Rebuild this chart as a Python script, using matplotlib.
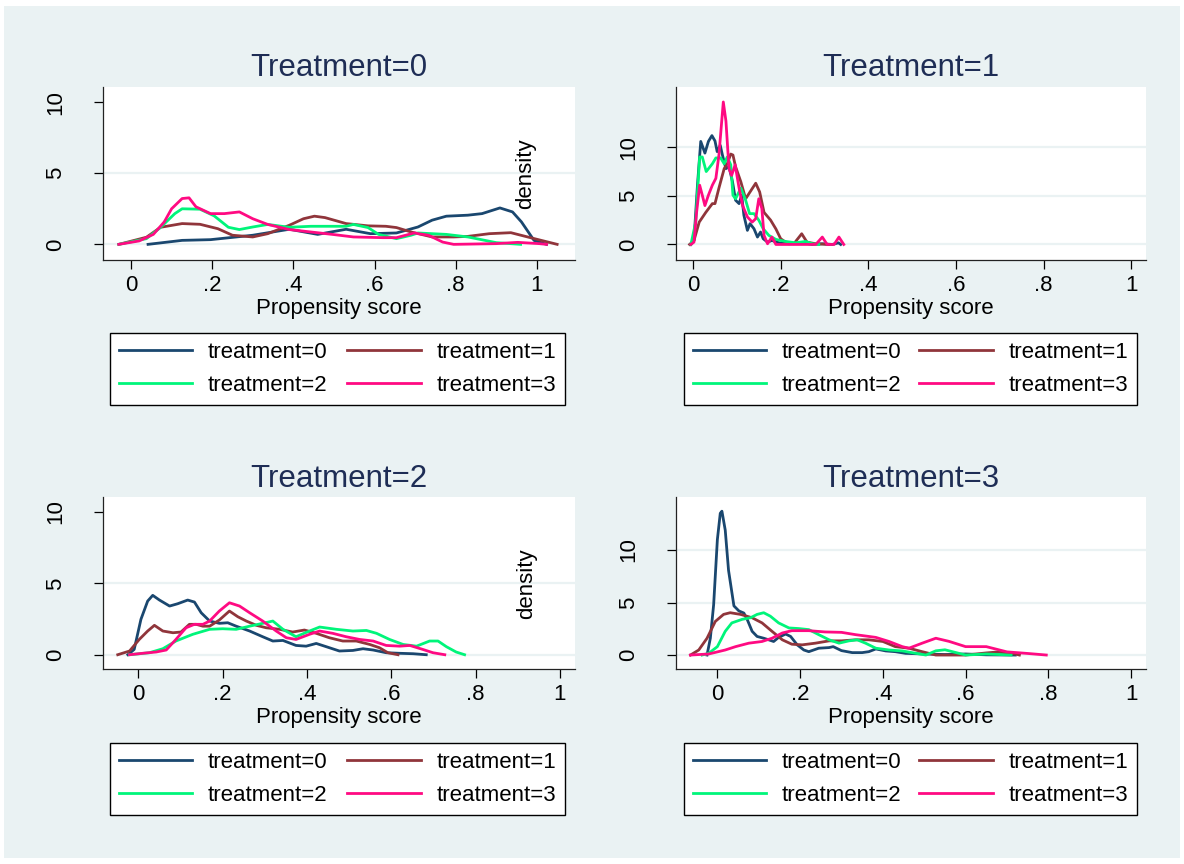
import matplotlib
matplotlib.use('Agg')
import matplotlib.pyplot as plt
from matplotlib.patches import Rectangle

plt.rcParams['font.family'] = ['Liberation Sans', 'DejaVu Sans']

W, H = 1184, 864

# ---- data (density curves) ----
# Treatment=0 panel
p0_t0_x = [0.042, 0.126, 0.196, 0.30, 0.39, 0.46, 0.53, 0.59, 0.654, 0.707, 0.742, 0.777, 0.83, 0.865, 0.909, 0.94, 0.962, 0.993, 1.024]
p0_t0_y = [0, 0.28, 0.33, 0.64, 1.06, 0.7, 1.06, 0.75, 0.8, 1.22, 1.7, 1.98, 2.05, 2.16, 2.56, 2.28, 1.58, 0.28, 0]
p0_t1_x = [-0.03, 0.038, 0.073, 0.126, 0.17, 0.214, 0.25, 0.30, 0.337, 0.39, 0.425, 0.452, 0.478, 0.53, 0.584, 0.628, 0.654, 0.69, 0.742, 0.795, 0.83, 0.883, 0.936, 0.98, 1.05]
p0_t1_y = [0, 0.5, 1.2, 1.46, 1.41, 1.1, 0.64, 0.52, 0.75, 1.34, 1.8, 1.98, 1.88, 1.46, 1.3, 1.27, 1.18, 0.87, 0.52, 0.52, 0.56, 0.75, 0.82, 0.5, 0]
p0_t2_x = [-0.03, 0.038, 0.073, 0.108, 0.126, 0.17, 0.205, 0.24, 0.267, 0.30, 0.337, 0.39, 0.443, 0.53, 0.548, 0.584, 0.61, 0.654, 0.69, 0.707, 0.777, 0.83, 0.90, 0.96]
p0_t2_y = [0, 0.4, 1.2, 2.16, 2.5, 2.47, 2.0, 1.2, 1.04, 1.22, 1.4, 1.2, 1.27, 1.27, 1.4, 1.18, 0.7, 0.4, 0.64, 0.8, 0.7, 0.52, 0.12, 0]
p0_t3_x = [-0.03, 0.02, 0.055, 0.082, 0.10, 0.126, 0.143, 0.16, 0.196, 0.23, 0.267, 0.30, 0.337, 0.39, 0.443, 0.496, 0.548, 0.62, 0.654, 0.698, 0.733, 0.768, 0.795, 0.90, 0.953, 1.006, 1.024]
p0_t3_y = [0, 0.24, 0.7, 1.58, 2.5, 3.22, 3.27, 2.64, 2.16, 2.16, 2.28, 1.8, 1.4, 1.04, 0.87, 0.7, 0.52, 0.47, 0.47, 0.8, 0.64, 0.16, 0, 0.05, 0.14, 0.05, 0]

# Treatment=1 panel
p1_t0_x = [-0.005, 0.002, 0.01, 0.0175, 0.027, 0.035, 0.043, 0.05, 0.055, 0.062, 0.067, 0.075, 0.082, 0.09, 0.097, 0.105, 0.111, 0.116, 0.124, 0.13, 0.139, 0.147, 0.154, 0.16, 0.17, 0.18, 0.196, 0.219, 0.25, 0.272, 0.295, 0.318, 0.332, 0.337]
p1_t0_y = [0, 0.41, 6.1, 10.6, 9.4, 10.6, 11.2, 10.65, 9.55, 10.2, 9.2, 7.8, 8.0, 6.45, 4.55, 4.2, 5.07, 3.0, 1.45, 2.14, 1.62, 0.76, 1.28, 0.59, 0.24, 0.41, 0.17, 0.07, 0.17, 0, 0.07, 0, 0.17, 0]
p1_t1_x = [-0.008, 0.002, 0.014, 0.029, 0.044, 0.05, 0.059, 0.071, 0.078, 0.086, 0.091, 0.097, 0.109, 0.12, 0.13, 0.143, 0.152, 0.162, 0.177, 0.189, 0.2, 0.211, 0.23, 0.248, 0.26, 0.28, 0.31]
p1_t1_y = [0, 0.4, 2.3, 3.3, 4.2, 4.2, 5.8, 7.8, 8.3, 9.3, 9.2, 8.0, 6.45, 4.7, 5.4, 6.3, 5.4, 3.3, 2.5, 1.6, 0.59, 0.24, 0.07, 1.1, 0.24, 0.07, 0]
p1_t2_x = [-0.005, 0.006, 0.015, 0.021, 0.03, 0.044, 0.052, 0.063, 0.071, 0.078, 0.086, 0.091, 0.097, 0.109, 0.12, 0.129, 0.139, 0.15, 0.16, 0.173, 0.189, 0.211, 0.234, 0.257, 0.272, 0.287]
p1_t2_y = [0, 2.3, 9.0, 9.0, 7.5, 8.3, 8.9, 8.9, 8.3, 9.0, 8.2, 5.07, 4.7, 5.8, 4.55, 3.17, 3.17, 2.5, 1.62, 0.93, 0.52, 0.31, 0.17, 0.31, 0.07, 0]
p1_t3_x = [-0.005, 0.002, 0.008, 0.015, 0.021, 0.027, 0.035, 0.044, 0.052, 0.059, 0.069, 0.075, 0.082, 0.088, 0.096, 0.105, 0.113, 0.124, 0.135, 0.143, 0.15, 0.157, 0.162, 0.17, 0.18, 0.189, 0.28, 0.295, 0.306, 0.322, 0.333, 0.344]
p1_t3_y = [0, 0.24, 3.3, 6.1, 5.07, 4.0, 5.07, 6.1, 6.8, 9.2, 14.66, 12.7, 7.8, 7.1, 8.2, 5.8, 4.0, 2.83, 2.3, 2.65, 4.7, 3.7, 0.93, 0.07, 0.76, 0, 0, 0.76, 0, 0, 0.76, 0]

# Treatment=2 panel
p2_t0_x = [-0.025, -0.01, 0.006, 0.022, 0.034, 0.05, 0.074, 0.093, 0.117, 0.133, 0.149, 0.169, 0.192, 0.212, 0.232, 0.264, 0.295, 0.319, 0.343, 0.374, 0.398, 0.422, 0.446, 0.477, 0.509, 0.533, 0.557, 0.588, 0.62, 0.652, 0.683]
p2_t0_y = [0, 0.37, 2.48, 3.76, 4.16, 3.83, 3.41, 3.57, 3.83, 3.69, 2.94, 2.36, 2.2, 2.24, 2.0, 1.66, 1.26, 0.96, 1.0, 0.65, 0.6, 0.79, 0.56, 0.26, 0.3, 0.42, 0.33, 0.14, 0.1, 0.07, 0]
p2_t1_x = [-0.049, -0.021, 0.002, 0.022, 0.038, 0.058, 0.082, 0.101, 0.121, 0.137, 0.153, 0.169, 0.192, 0.216, 0.236, 0.256, 0.28, 0.303, 0.335, 0.366, 0.394, 0.422, 0.453, 0.485, 0.517, 0.549, 0.572, 0.592, 0.616]
p2_t1_y = [0, 0.26, 1.07, 1.66, 2.06, 1.66, 1.54, 1.59, 2.13, 2.13, 2.0, 2.0, 2.43, 3.06, 2.66, 2.36, 2.06, 1.89, 1.78, 1.59, 1.73, 1.5, 1.19, 0.96, 0.96, 0.72, 0.49, 0.14, 0]
p2_t2_x = [-0.021, 0.026, 0.058, 0.089, 0.129, 0.169, 0.2, 0.232, 0.264, 0.295, 0.319, 0.343, 0.374, 0.406, 0.43, 0.47, 0.509, 0.541, 0.565, 0.596, 0.628, 0.66, 0.691, 0.711, 0.731, 0.754, 0.774]
p2_t2_y = [0, 0.14, 0.42, 0.96, 1.43, 1.78, 1.82, 1.78, 2.0, 2.2, 2.36, 1.78, 1.26, 1.66, 1.94, 1.78, 1.66, 1.7, 1.5, 1.07, 0.72, 0.6, 0.96, 0.96, 0.56, 0.19, 0]
p2_t3_x = [-0.021, 0.01, 0.042, 0.066, 0.089, 0.113, 0.133, 0.153, 0.169, 0.192, 0.216, 0.24, 0.264, 0.295, 0.327, 0.351, 0.374, 0.406, 0.43, 0.461, 0.493, 0.525, 0.557, 0.588, 0.62, 0.644, 0.675, 0.699, 0.727]
p2_t3_y = [0, 0.1, 0.19, 0.33, 1.07, 1.89, 2.13, 2.13, 2.36, 3.06, 3.64, 3.41, 2.94, 2.36, 1.66, 1.19, 1.07, 1.43, 1.66, 1.5, 1.26, 1.07, 0.96, 0.65, 0.6, 0.65, 0.37, 0.14, 0]

# Treatment=3 panel
p3_t0_x = [-0.025, -0.017, -0.009, 0.0, 0.007, 0.011, 0.019, 0.027, 0.04, 0.052, 0.064, 0.072, 0.084, 0.096, 0.112, 0.124, 0.136, 0.148, 0.165, 0.177, 0.193, 0.209, 0.221, 0.245, 0.27, 0.28, 0.30, 0.326, 0.35, 0.366, 0.383, 0.407, 0.43, 0.455, 0.5, 0.55, 0.6, 0.65, 0.72]
p3_t0_y = [0, 1.6, 4.8, 11.0, 13.5, 13.7, 11.9, 8.06, 4.68, 4.2, 4.0, 3.4, 2.26, 1.77, 1.6, 1.45, 1.29, 1.68, 2.0, 1.77, 0.97, 0.48, 0.32, 0.65, 0.71, 0.8, 0.42, 0.23, 0.23, 0.32, 0.58, 0.39, 0.32, 0.16, 0.1, 0.05, 0.1, 0.02, 0]
p3_t1_x = [-0.065, -0.045, -0.025, -0.005, 0.015, 0.031, 0.056, 0.084, 0.108, 0.132, 0.157, 0.18, 0.205, 0.237, 0.27, 0.30, 0.334, 0.366, 0.40, 0.43, 0.463, 0.495, 0.528, 0.6, 0.65, 0.68, 0.72, 0.73]
p3_t1_y = [0, 0.48, 1.6, 3.2, 3.87, 4.03, 3.87, 3.55, 3.06, 2.26, 1.45, 1.03, 0.97, 1.13, 1.35, 1.35, 1.45, 1.45, 1.29, 0.8, 0.65, 0.32, 0.0, 0.0, 0.2, 0.3, 0.1, 0]
p3_t2_x = [-0.037, -0.021, 0.0, 0.019, 0.035, 0.06, 0.08, 0.096, 0.112, 0.128, 0.148, 0.173, 0.197, 0.221, 0.245, 0.27, 0.294, 0.318, 0.338, 0.358, 0.383, 0.415, 0.447, 0.48, 0.504, 0.528, 0.55, 0.6, 0.65, 0.71]
p3_t2_y = [0, 0.16, 0.8, 2.26, 3.06, 3.4, 3.55, 3.87, 4.03, 3.7, 3.06, 2.58, 2.52, 2.42, 1.94, 1.45, 1.13, 1.35, 1.45, 1.13, 0.65, 0.48, 0.39, 0.16, 0.0, 0.4, 0.5, 0.0, 0.1, 0]
p3_t3_x = [-0.065, -0.021, 0.019, 0.044, 0.076, 0.108, 0.132, 0.157, 0.18, 0.221, 0.26, 0.30, 0.334, 0.383, 0.415, 0.447, 0.463, 0.495, 0.528, 0.56, 0.6, 0.65, 0.7, 0.75, 0.795]
p3_t3_y = [0, 0.1, 0.48, 0.8, 1.13, 1.29, 1.6, 2.1, 2.32, 2.32, 2.2, 2.16, 1.94, 1.68, 1.29, 0.8, 0.65, 1.13, 1.6, 1.3, 0.8, 0.8, 0.3, 0.15, 0]

titles = ['Treatment=0', 'Treatment=1', 'Treatment=2', 'Treatment=3']
labels = ['treatment=0', 'treatment=1', 'treatment=2', 'treatment=3']
colors = ['#1a476f', '#90353b', '#00f57a', '#ff0a82']
xticks = [0, 0.2, 0.4, 0.6, 0.8, 1]
xticklabels = ['0', '.2', '.4', '.6', '.8', '1']
yticks = [0, 5, 10]

panels = [
    [(p0_t0_x, p0_t0_y), (p0_t1_x, p0_t1_y), (p0_t2_x, p0_t2_y), (p0_t3_x, p0_t3_y)],
    [(p1_t0_x, p1_t0_y), (p1_t1_x, p1_t1_y), (p1_t2_x, p1_t2_y), (p1_t3_x, p1_t3_y)],
    [(p2_t0_x, p2_t0_y), (p2_t1_x, p2_t1_y), (p2_t2_x, p2_t2_y), (p2_t3_x, p2_t3_y)],
    [(p3_t0_x, p3_t0_y), (p3_t1_x, p3_t1_y), (p3_t2_x, p3_t2_y), (p3_t3_x, p3_t3_y)],
]

# layout (pixels): axes box l, t, r, b ; legend box ; limits
boxes = [(103, 87, 575, 260), (676, 87, 1146, 260), (103, 497, 575, 669), (676, 497, 1146, 669)]
leg_boxes = [(110, 333, 565, 406), (684, 333, 1137, 406), (110, 743, 565, 817), (684, 743, 1137, 817)]
xlims = [(-0.069, 1.094), (-0.039, 1.034), (-0.084, 1.036), (-0.10, 1.036)]
ylims = [(-1.1, 11.06), (-1.6, 16.2), (-1.0, 11.05), (-1.33, 15.05)]
grids = [[0, 5], [0, 5, 10], [0, 5], [0, 5, 10]]
title_y = [68, 68, 479, 479]
density_pos = [(526, 174), None, (527, 584), None]

bg = '#eaf2f3'
fig = plt.figure(figsize=(W / 100, H / 100), dpi=100, facecolor='white')
fig.patches.append(Rectangle((4 / W, 6 / H), 1176 / W, 852 / H, transform=fig.transFigure,
                             facecolor=bg, edgecolor='none', zorder=-10))

for k in range(4):
    l, t, r, b = boxes[k]
    ax = fig.add_axes([l / W, 1 - b / H, (r - l) / W, (b - t) / H])
    ax.set_facecolor('white')
    for g in grids[k]:
        ax.axhline(g, color=bg, lw=1.6, zorder=1)
    handles = []
    for j, (xs, ys) in enumerate(panels[k]):
        h, = ax.plot(xs, ys, color=colors[j], lw=2.0, label=labels[j], zorder=3 + j)
        handles.append(h)
    ax.set_xlim(*xlims[k])
    ax.set_ylim(*ylims[k])
    ax.set_xticks(xticks)
    ax.set_xticklabels(xticklabels)
    ax.set_yticks(yticks)
    ax.set_yticklabels([str(v) for v in yticks], rotation=90, va='center')
    ax.tick_params(axis='x', direction='out', length=6.5, width=0.9, pad=4, labelsize=16)
    ax.tick_params(axis='y', direction='out', length=6.5, width=0.9, pad=20, labelsize=16)
    for s in ['top', 'right']:
        ax.spines[s].set_visible(False)
    for s in ['left', 'bottom']:
        ax.spines[s].set_linewidth(0.9)
        ax.spines[s].set_color('#222222')
    ax.set_xlabel('Propensity score', fontsize=16, labelpad=2)

    fig.text((l + r) / 2 / W, 1 - title_y[k] / H, titles[k], ha='center', va='center',
             fontsize=22.5, color='#1e2d55')
    if density_pos[k] is not None:
        dx, dy = density_pos[k]
        fig.text(dx / W, 1 - dy / H, 'density', rotation=90, ha='center', va='center', fontsize=16)

    ll, lt, lr, lb = leg_boxes[k]
    order = [0, 2, 1, 3]
    leg = ax.legend([handles[i] for i in order], [labels[i] for i in order], ncol=2,
                    loc='upper left', mode='expand',
                    bbox_to_anchor=(ll / W, 1 - lb / H, (lr - ll) / W, (lb - lt) / H),
                    bbox_transform=fig.transFigure, fontsize=16, frameon=True, fancybox=False,
                    edgecolor='black', framealpha=1, borderpad=0.4, labelspacing=0.55,
                    handlelength=3.3, handletextpad=0.7, borderaxespad=0, columnspacing=1.0)
    leg.get_frame().set_linewidth(1.0)

fig.savefig('out.png', dpi=100, facecolor='white')
